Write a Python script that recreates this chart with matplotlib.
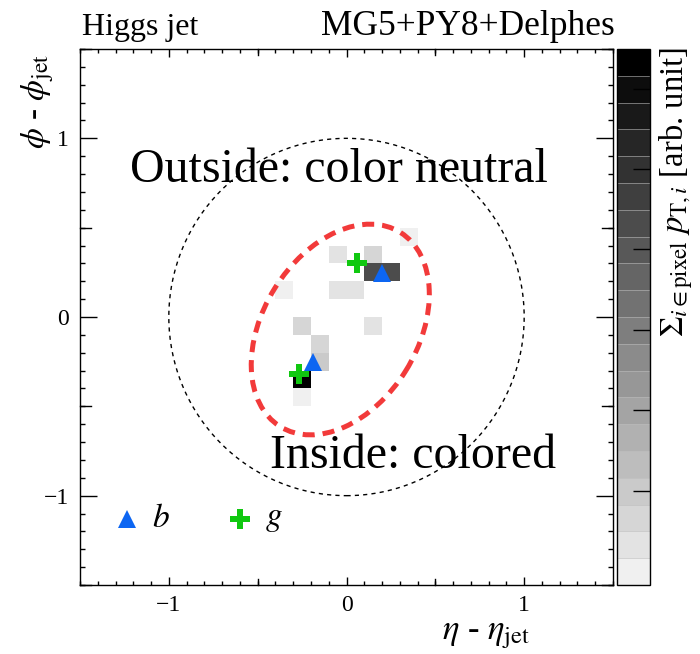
import numpy as np
import matplotlib
matplotlib.use("Agg")
import matplotlib.pyplot as plt
from matplotlib.colors import ListedColormap, BoundaryNorm
from matplotlib.patches import Ellipse
from matplotlib.ticker import MultipleLocator

plt.rcParams['font.family'] = ['Liberation Serif', 'DejaVu Serif']
plt.rcParams['mathtext.fontset'] = 'stix'

# pixel lower edges (eta, phi) and summed pT (arb. unit)
cell_eta = [0.3, -0.1, 0.1, 0.1, 0.2, -0.4, -0.1, 0.0, -0.3, 0.1, -0.2, -0.2, -0.3, -0.3]
cell_phi = [0.4, 0.3, 0.3, 0.2, 0.2, 0.1, 0.1, 0.1, -0.1, -0.1, -0.2, -0.3, -0.4, -0.5]
cell_pt = [0.02, 0.07, 0.13, 0.67, 0.67, 0.02, 0.07, 0.07, 0.13, 0.07, 0.12, 0.17, 0.99, 0.03]

# partons
b_eta = [0.2, -0.19]
b_phi = [0.245, -0.25]
g_eta = [0.06, -0.265]
g_phi = [0.30, -0.32]

# cone ellipses: center, semi-axes, angle
outer_ell = (0.0, 0.0, 1.0, 1.0, 0.0)
inner_ell = (-0.035, -0.07, 0.64, 0.435, 58.0)

cbar_ticks = [0.176, 0.326, 0.476, 0.626, 0.776, 0.926]

edges = np.round(np.arange(-1.5, 1.5001, 0.1), 2)
n = len(edges) - 1
grid = np.full((n, n), np.nan)
for e, p, v in zip(cell_eta, cell_phi, cell_pt):
    i = int(round((e + 1.5) / 0.1))
    j = int(round((p + 1.5) / 0.1))
    grid[j, i] = v

nlev = 20
grays = np.linspace(0.94, 0.0, nlev)
cmap = ListedColormap([(g, g, g) for g in grays])
norm = BoundaryNorm(np.linspace(0, 1, nlev + 1), nlev)

fig = plt.figure(figsize=(7, 6.54), dpi=100)
ax = fig.add_axes([80 / 700, 1 - 585 / 654, 533 / 700, 536 / 654])
cax = fig.add_axes([617 / 700, 1 - 585 / 654, 33 / 700, 536 / 654])

mesh = ax.pcolormesh(edges, edges, np.ma.masked_invalid(grid), cmap=cmap, norm=norm, zorder=1)

cx, cy, a, b, ang = outer_ell
ax.add_patch(Ellipse((cx, cy), 2 * a, 2 * b, angle=ang, fill=False, ec='black',
                     lw=1.0, ls=(0, (3, 3)), zorder=2))
cx, cy, a, b, ang = inner_ell
ax.add_patch(Ellipse((cx, cy), 2 * a, 2 * b, angle=ang, fill=False, ec='#f23a3a',
                     lw=3.6, ls=(0, (2.4, 1.6)), zorder=2))

ax.plot(b_eta, b_phi, ls='none', marker='^', ms=13.5, color='#0d66f2', mew=0, zorder=4)
ax.plot(g_eta, g_phi, ls='none', marker='P', ms=15, color='#10c810', mew=0, zorder=3)

ax.text(-1.22, 0.755, 'Outside: color neutral', fontsize=34.5, va='baseline', zorder=5)
ax.text(-0.43, -0.845, 'Inside: colored', fontsize=34.5, va='baseline', zorder=5)

# legend
ax.plot([0.088], [0.123], transform=ax.transAxes, marker='^', ms=13.5, color='#0d66f2', mew=0)
ax.text(0.135, 0.123, '$b$', transform=ax.transAxes, fontsize=24, va='center')
ax.plot([0.30], [0.123], transform=ax.transAxes, marker='P', ms=15, color='#10c810', mew=0)
ax.text(0.347, 0.123, '$g$', transform=ax.transAxes, fontsize=24, va='center')

ax.set_xlim(-1.5, 1.5)
ax.set_ylim(-1.5, 1.5)
ax.xaxis.set_major_locator(MultipleLocator(1))
ax.yaxis.set_major_locator(MultipleLocator(1))
ax.xaxis.set_minor_locator(MultipleLocator(0.1))
ax.yaxis.set_minor_locator(MultipleLocator(0.1))
ax.tick_params(which='both', direction='in', top=True, right=True, labelsize=17)
ax.tick_params(axis='x', which='major', length=6, width=1, pad=7)
ax.tick_params(axis='x', which='minor', length=3, width=1)
ax.tick_params(axis='y', which='major', length=12, width=1, pad=8)
ax.tick_params(axis='y', which='minor', length=3.5, width=1)
for sp in ax.spines.values():
    sp.set_linewidth(1)
# half-unit ticks drawn a bit longer than the minors
for v in [-0.5, 0.5]:
    for y0 in [0, 1]:
        ax.plot([v, v], [y0, y0 + (0.011 if y0 == 0 else -0.011)], color='black', lw=1,
                transform=ax.get_xaxis_transform(), clip_on=False)
for v in [-1.5, -0.5, 0.5, 1.5]:
    for x0 in [0, 1]:
        ax.plot([x0, x0 + (0.02 if x0 == 0 else -0.02)], [v, v], color='black', lw=1,
                transform=ax.get_yaxis_transform(), clip_on=False)

ax.text(0.844, -0.092, r'$\eta$ - $\eta_{\mathrm{jet}}$', transform=ax.transAxes,
        fontsize=25, ha='right', va='center')
ax.text(-0.08, 0.99, r'$\phi$ - $\phi_{\mathrm{jet}}$', transform=ax.transAxes,
        fontsize=24, rotation=90, ha='center', va='top')

cb = fig.colorbar(mesh, cax=cax, drawedges=True)
cb.dividers.set_color('#bbbbbb')
cb.dividers.set_linewidth(0.4)
cb.outline.set_linewidth(1)
cb.set_ticks(cbar_ticks)
cb.ax.tick_params(direction='in', length=12, width=1, labelright=False, right=True)
cb.ax.yaxis.set_tick_params(which='minor', length=0)

fig.text(676 / 700, 1 - 47 / 654, r'$\Sigma_{i\in\mathrm{pixel}}\ p_{\mathrm{T},i}$ [arb. unit]',
         rotation=90, ha='center', va='top', fontsize=23.5)

fig.text(82 / 700, 1 - 35 / 654, 'Higgs jet', fontsize=23, va='baseline')
fig.text(615 / 700, 1 - 35 / 654, 'MG5+PY8+Delphes', fontsize=25.5, va='baseline', ha='right')

fig.savefig('out.png', dpi=100)
